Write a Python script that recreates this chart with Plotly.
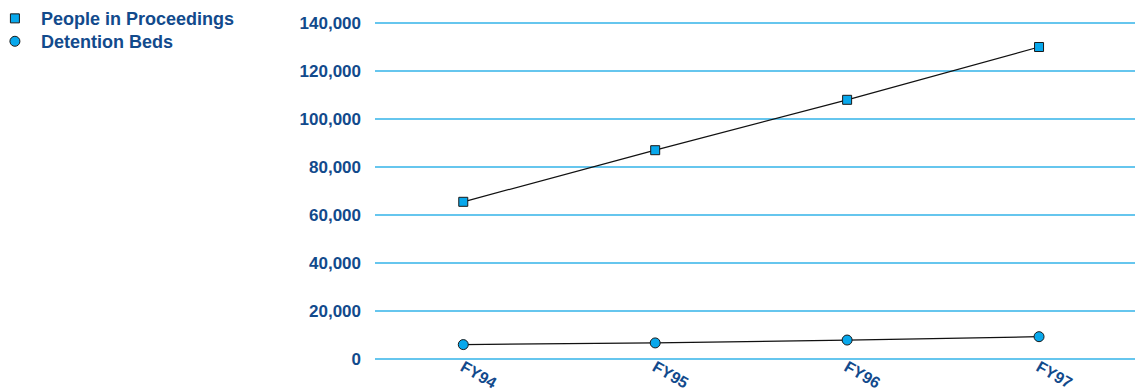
import plotly.graph_objects as go

years = ["FY94", "FY95", "FY96", "FY97"]
people_in_proceedings = [65500, 87000, 108000, 130000]
detention_beds = [6000, 6700, 7900, 9300]
y_ticks = [0, 20000, 40000, 60000, 80000, 100000, 120000, 140000]
y_tick_labels = ["0", "20,000", "40,000", "60,000", "80,000", "100,000", "120,000", "140,000"]

NAVY = "#124a8c"
SKY = "#08a8ec"
GRID = "#66c6ee"
FONT = "Liberation Sans"

fig = go.Figure()

series = [
    ("People in Proceedings", people_in_proceedings, "square", 9, "legend"),
    ("Detention Beds", detention_beds, "circle", 10, "legend2"),
]
for name, values, symbol, size, legend_id in series:
    # connecting line, kept out of the legend
    fig.add_trace(go.Scatter(
        x=years, y=values, mode="lines",
        line=dict(color="#111111", width=1.2),
        showlegend=False, hoverinfo="skip",
    ))
    # markers carry the legend entry
    fig.add_trace(go.Scatter(
        x=years, y=values, mode="markers", name=name, legend=legend_id,
        marker=dict(symbol=symbol, size=size, color=SKY,
                    line=dict(color="#1a1a1a", width=1)),
    ))

legend_style = dict(
    x=-0.508, xanchor="left", yanchor="top",
    font=dict(family=FONT, size=18, color=NAVY, weight="bold"),
    itemwidth=42, bgcolor="rgba(0,0,0,0)",
)

# a little padding so the 0 and 140,000 gridlines are drawn inside the plot area
fig.update_layout(
    width=1135, height=391,
    margin=dict(l=375, r=0, t=20, b=29, autoexpand=False),
    paper_bgcolor="white", plot_bgcolor="white",
    font=dict(family=FONT, color=NAVY, size=15),
    legend=dict(y=1.058, **legend_style),
    legend2=dict(y=0.991, **legend_style),
    xaxis=dict(
        type="category", range=[-0.46, 3.5],
        showgrid=False, zeroline=False, showline=False, ticks="",
        tickangle=30, automargin=False, ticklabelstandoff=-8,
        tickfont=dict(family=FONT, size=16, color=NAVY, weight="bold"),
    ),
    yaxis=dict(
        range=[-1250, 141250],
        tickvals=y_ticks, ticktext=y_tick_labels,
        showgrid=True, gridcolor=GRID, gridwidth=1.5,
        zeroline=False, showline=False, ticks="",
        ticklabelstandoff=13, automargin=False,
        tickfont=dict(family=FONT, size=17, color=NAVY, weight="bold"),
    ),
)

fig.write_html("out.html")
